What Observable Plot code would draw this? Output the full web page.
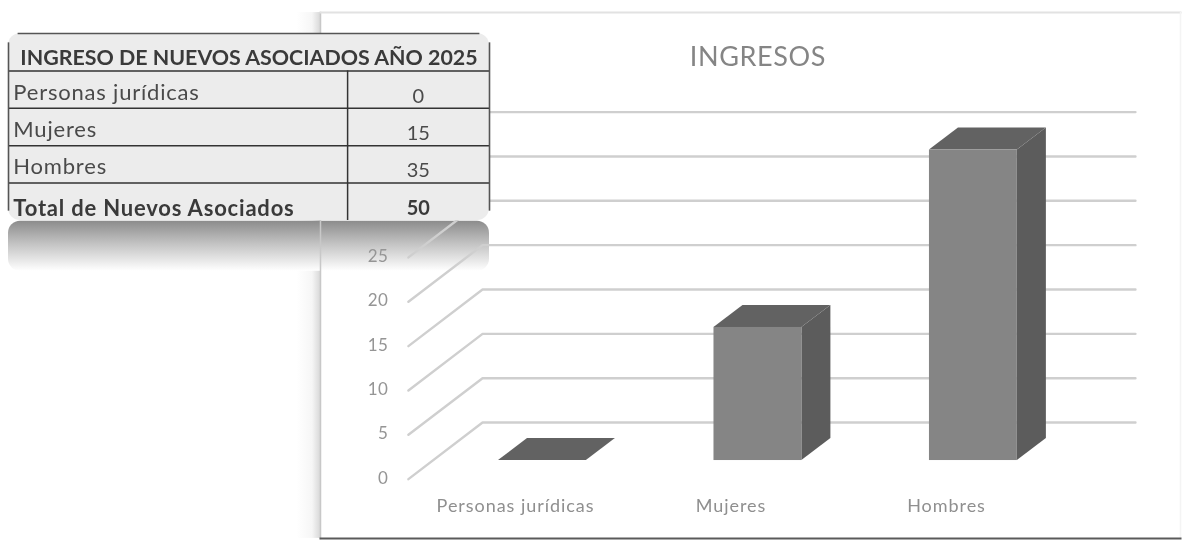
<!DOCTYPE html>
<html><head><meta charset="utf-8">
<script src="https://cdn.jsdelivr.net/npm/d3@7"></script>
<script src="https://cdn.jsdelivr.net/npm/@observablehq/plot@0.6"></script>
<style>
html,body{margin:0;padding:0;background:#fff;overflow:hidden}
#stage{position:relative;width:1187px;height:541px}
#stage svg{position:absolute;left:0;top:0;filter:blur(0.7px)}
.sp3 text{letter-spacing:.5px}
.sp6 text{letter-spacing:.6px}
.sp8 text{letter-spacing:.8px}
.sp9 text{letter-spacing:.95px}
</style></head><body><div id="stage"></div>
<script>
const categories = ["Personas jurídicas", "Mujeres", "Hombres"];
const values = [0, 15, 35];
const axisTicks = [0, 5, 10, 15, 20, 25, 30, 35];
const tableTitle = "INGRESO DE NUEVOS ASOCIADOS AÑO 2025";
const totalLabel = "Total de Nuevos Asociados";
const totalValue = 50;
const chartTitle = "INGRESOS";

const font = "Lato, 'Open Sans', sans-serif";
const W = 1187, H = 541;
const stage = document.getElementById("stage");
const base = {width: W, height: H, style: {background: "transparent"}};

/* bar geometry, in scale units */
const half = 0.204, depthX = 0.1346, depthY = 2.48;
const bars = categories.map((c, i) => ({c, i, v: values[i]}));
const side = bars.flatMap(d => [
  {c: d.c, x: d.i + half, y1: 0, y2: d.v},
  {c: d.c, x: d.i + half + depthX, y1: depthY, y2: d.v + depthY}
]);
const top_ = bars.flatMap(d => [
  {c: d.c, x: d.i - half, y1: d.v, y2: d.v},
  {c: d.c, x: d.i - half + depthX, y1: d.v, y2: d.v + depthY},
  {c: d.c, x: d.i + half, y1: d.v, y2: d.v + depthY},
  {c: d.c, x: d.i + half + depthX, y1: d.v + depthY, y2: d.v + depthY}
]);
const grid = axisTicks.flatMap(t => [
  {t, x: -0.622, y: t - 2.1},
  {t, x: -0.278, y: t + 4.28},
  {t, x: 2.752, y: t + 4.28}
]);

/* table scales: x is the table width 0..1, y counts rows */
const tableOpts = {
  ...base,
  marginLeft: 8, marginRight: W - 489, marginTop: 33, marginBottom: H - 220,
  x: {domain: [0, 1], axis: null},
  y: {domain: [5, 0], axis: null}
};

/* layer 1: reflection below the table, shadow left of the card */
const gradients = () => {
  const defs = d3.create("svg:defs");
  const g = defs.append("linearGradient").attr("id", "refl").attr("x1", 0).attr("x2", 0).attr("y1", 0).attr("y2", 1);
  g.append("stop").attr("offset", "0").attr("stop-color", "#8c8c8c");
  g.append("stop").attr("offset", "0.45").attr("stop-color", "#c2c2c2");
  g.append("stop").attr("offset", "1").attr("stop-color", "#ffffff");
  const s = defs.append("linearGradient").attr("id", "shadow").attr("x1", 0).attr("x2", 1).attr("y1", 0).attr("y2", 0);
  s.append("stop").attr("offset", "0").attr("stop-color", "#ffffff");
  s.append("stop").attr("offset", "0.65").attr("stop-color", "#f6f6f6");
  s.append("stop").attr("offset", "1").attr("stop-color", "#d8d8d8");
  return defs.node();
};
stage.append(Plot.plot({
  ...tableOpts,
  marks: [
    gradients,
    Plot.rect([0], {x1: 0.6, x2: 0.649, y1: -0.56, y2: 13.5, fill: "url(#shadow)"}),
    Plot.rect([0], {x1: 0, x2: 1, y1: 5.02, y2: 6.36, fill: "url(#refl)", rx: 12})
  ]
}));

/* layer 2: the chart */
stage.append(Plot.plot({
  ...base,
  marginLeft: 320, marginRight: W - 1180, marginTop: 12, marginBottom: H - 538,
  x: {domain: [-1.03, 2.961], axis: null},
  y: {domain: [-8.79, 50.51], axis: null},
  marks: [
    Plot.frame({anchor: "left", stroke: "#c8c8c8", strokeWidth: 1.5}),
    Plot.frame({anchor: "top", stroke: "#e2e2e2", strokeWidth: 2}),
    Plot.frame({anchor: "right", stroke: "#f4f4f4", strokeWidth: 1.5}),
    Plot.frame({anchor: "bottom", stroke: "#5a5a5a", strokeWidth: 2}),
    Plot.line(grid, {x: "x", y: "y", z: "t", stroke: "#cfcfcf", strokeWidth: 2.4}),
    Plot.area(side, {x1: "x", y1: "y1", y2: "y2", z: "c", fill: "#5c5c5c"}),
    Plot.area(top_, {x1: "x", y1: "y1", y2: "y2", z: "c", fill: "#626262"}),
    Plot.rect(bars, {x1: d => d.i - half, x2: d => d.i + half, y1: 0, y2: "v", fill: "#858585"}),
    Plot.text(axisTicks, {x: -0.7146, y: d => d - 2.0, text: d => String(d), textAnchor: "end", fill: "#959595", fontSize: 17, fontFamily: font, className: "sp3"}),
    Plot.text(bars, {x: d => d.i - 0.125, y: -5.19, text: "c", fill: "#8f8f8f", fontSize: 18, fontFamily: font, className: "sp9"}),
    Plot.text([chartTitle], {x: 1, y: 45.45, text: d => d, fill: "#858585", fontSize: 27, fontFamily: font, className: "sp6"})
  ]
}));

/* layer 3: the table */
const rows = [
  ...categories.map((c, i) => ({label: c, value: values[i], row: i + 1, bold: false})),
  {label: totalLabel, value: totalValue, row: 4, bold: true}
];
const plain = rows.filter(d => !d.bold), bold = rows.filter(d => d.bold);
const ink = "#3a3a3a";
stage.append(Plot.plot({
  ...tableOpts,
  marks: [
    Plot.rect([0], {x1: 0, x2: 1, y1: 0, y2: 5, fill: "#ececec", rx: 12}),
    Plot.ruleY([0], {x1: 0.02, x2: 0.98, stroke: "#555", strokeWidth: 1.6}),
    Plot.ruleY([1, 2, 3, 4], {x1: 0, x2: 1, stroke: "#333", strokeWidth: 1.5}),
    Plot.ruleX([0, 1], {y1: 0.25, y2: 4.75, stroke: "#555", strokeWidth: 1.6}),
    Plot.ruleX([0.705], {y1: 1, y2: 5, stroke: "#333", strokeWidth: 1.5}),
    Plot.text([tableTitle], {x: 0.5, y: 0.5, dy: 6, text: d => d, fill: ink, fontWeight: 700, fontSize: 21.4, fontFamily: font}),
    Plot.text(plain, {x: 0.01, y: d => d.row + 0.5, dy: 3, text: "label", textAnchor: "start", fill: "#4a4a4a", fontSize: 22, fontFamily: font, className: "sp8"}),
    Plot.text(plain, {x: 0.852, y: d => d.row + 0.5, dy: 6.5, text: d => String(d.value), fill: "#4a4a4a", fontSize: 20, fontFamily: font}),
    Plot.text(bold, {x: 0.01, y: d => d.row + 0.5, dy: 7, text: "label", textAnchor: "start", fill: ink, fontWeight: 700, fontSize: 22, fontFamily: font, className: "sp8"}),
    Plot.text(bold, {x: 0.852, y: d => d.row + 0.5, dy: 7, text: d => String(d.value), fill: ink, fontWeight: 700, fontSize: 20, fontFamily: font})
  ]
}));
</script></body></html>
